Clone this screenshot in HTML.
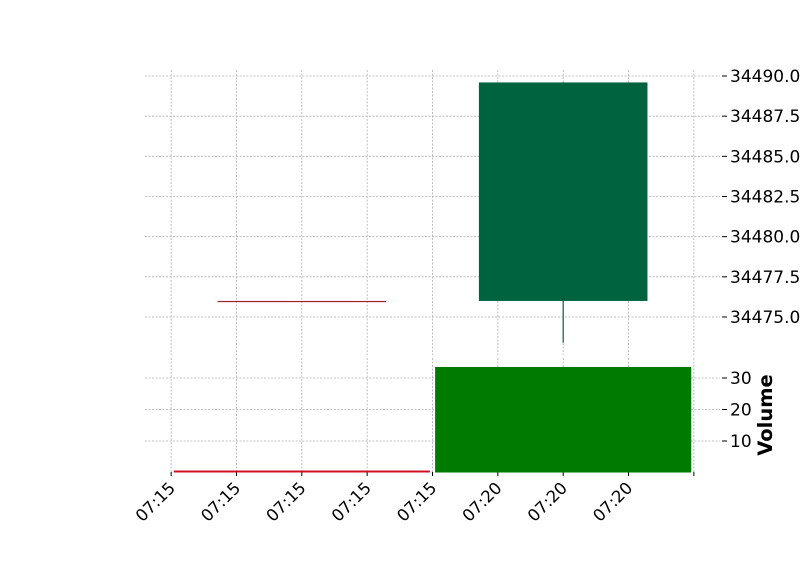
<!DOCTYPE html>
<html><head><meta charset="utf-8"><style>
body{margin:0;background:#fff}
svg{display:block;font-family:"DejaVu Sans","Liberation Sans",sans-serif}
</style></head><body>
<svg id="c" width="800" height="575" viewBox="0 0 800 575"></svg>
<script>
const categories=["07:15","07:20"];
const opens=[34476.0,34476.0];
const closes=[34476.0,34489.6];
const highs=[34476.0,34489.6];
const lows=[34476.0,34473.4];
const volumes=[0.5,33.5];
const priceTicks=[34475,34477.5,34480,34482.5,34485,34487.5,34490];
const volTicks=[10,20,30];
const xTickLabels=["07:15","07:15","07:15","07:15","07:15","07:20","07:20","07:20",""];

const NS="http://www.w3.org/2000/svg";
const svg=document.getElementById('c');
function mk(t,a,p){const e=document.createElementNS(NS,t);for(const k in a)e.setAttribute(k,a[k]);(p||svg).appendChild(e);return e;}
const L=145,R=720,xMin=-0.6,xMax=1.6;
const x=i=>L+(i-xMin)/(xMax-xMin)*(R-L);
const py=v=>317-(v-34475)*(241/15);
const vy=v=>472.5-v*3.15;
const PT=70,PB=355,VT=358,VB=472;
const grid={stroke:"#b0b0b0","stroke-width":0.8,"stroke-dasharray":"2,1.5"};
const xt=[];for(let k=0;k<9;k++)xt.push(-0.5+k*0.25);
xt.forEach((t,k)=>{
  let g=mk('line',Object.assign({x1:x(t),x2:x(t),y1:PT,y2:PB},grid));
  
  g=mk('line',Object.assign({x1:x(t),x2:x(t),y1:VT,y2:VB},grid));
  
  const tk=mk('line',{x1:x(t),x2:x(t),y1:VB,y2:VB+4,stroke:"#000","stroke-width":1});
  
  if(xTickLabels[k]){
    const tx=mk('text',{x:x(t)+5,y:489,"text-anchor":"end","font-size":16.5,transform:`rotate(-45 ${x(t)+5} 489)`});
    tx.textContent=xTickLabels[k];
    
  }
});
priceTicks.forEach(v=>{
  const g=mk('line',Object.assign({x1:L,x2:R,y1:py(v),y2:py(v)},grid));
  
  const tk=mk('line',{x1:R+2,x2:R+7,y1:py(v),y2:py(v),stroke:"#000"});
  
  const tx=mk('text',{x:730,y:py(v)+6,"font-size":17});
  tx.textContent=v.toFixed(1);
  
});
volTicks.forEach(v=>{
  const g=mk('line',Object.assign({x1:L,x2:R,y1:vy(v),y2:vy(v)},grid));
  
  const tk=mk('line',{x1:R+2,x2:R+7,y1:vy(v),y2:vy(v),stroke:"#000"});
  
  const tx=mk('text',{x:730,y:vy(v)+6,"font-size":17});
  tx.textContent=String(v);
  
});
const cw=0.645*(R-L)/(xMax-xMin);
categories.forEach((c,i)=>{
  const up=closes[i]>=opens[i]&&closes[i]!==opens[i];
  const col=up?"#006340":"#a02128";
  const w=mk('line',{x1:x(i),x2:x(i),y1:py(highs[i]),y2:py(lows[i]),stroke:col,"stroke-width":1.2});
  
  const top=py(Math.max(opens[i],closes[i])),bot=py(Math.min(opens[i],closes[i]));
  const b=mk('rect',{x:x(i)-cw/2,y:top,width:cw,height:Math.max(bot-top,1.2),fill:col});
  
  const vw=0.98*(R-L)/(xMax-xMin);
  const vc=up?"#007a00":"#d01020";
  const h=Math.max(vy(0)-vy(volumes[i]),2);
  const vb=mk('rect',{x:x(i)-vw/2,y:vy(0)-h,width:vw,height:h,fill:vc});
  
});
const vl=mk('text',{x:772,y:415,"font-size":19.5,"font-weight":"bold","text-anchor":"middle",transform:"rotate(-90 772 415)"});
vl.textContent="Volume";

</script>
</body></html>
